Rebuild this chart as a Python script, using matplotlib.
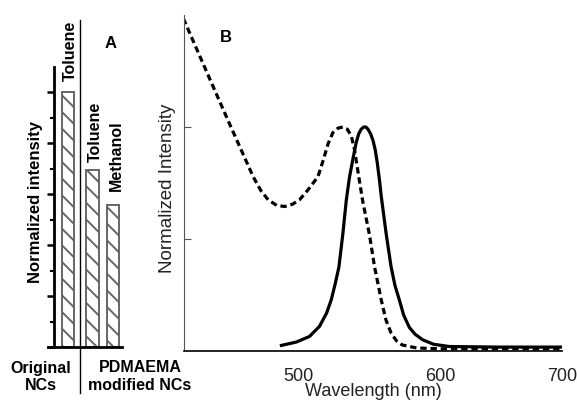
import matplotlib
matplotlib.use("Agg")
import matplotlib.pyplot as plt

plt.rcParams['font.family'] = ['Liberation Sans', 'DejaVu Sans']
plt.rcParams['hatch.linewidth'] = 1.4
plt.rcParams['hatch.color'] = '#666666'

# Panel A: bar intensities
bar_labels = ["Toluene", "Toluene", "Methanol"]
bar_values = [5.0, 3.48, 2.79]

# Panel B: absorption (dashed) and emission (solid) spectra
abs_wl = [419.5, 437.0, 452.2, 468.5, 474.0, 479.0, 485.0, 490.6, 496.0, 501.0,
          507.0, 513.9, 517.5, 521.0, 524.4, 528.0, 531.4, 534.5, 537.3, 539.5,
          542.6, 545.4, 550.0, 553.6, 558.3, 561.5, 565.2, 569.0, 573.0, 583.0,
          600.0, 685.0]
abs_val = [2.97, 2.46, 2.02, 1.556, 1.43, 1.35, 1.30, 1.29, 1.31, 1.35,
           1.44, 1.556, 1.70, 1.85, 1.95, 1.99, 2.00, 1.98, 1.92, 1.80,
           1.55, 1.33, 1.04, 0.75, 0.455, 0.28, 0.16, 0.09, 0.054, 0.027,
           0.02, 0.02]
em_wl = [488.3, 498.8, 508.0, 515.0, 520.0, 523.3, 526.0, 528.6, 531.4, 533.8,
         536.0, 538.5, 540.7, 542.5, 544.2, 546.0, 547.5, 549.0, 550.8, 552.5,
         554.0, 555.5, 557.0, 558.3, 561.7, 565.2, 568.0, 571.0, 574.0, 578.0,
         582.0, 587.3, 595.0, 606.0, 640.0, 685.0]
em_val = [0.05, 0.08, 0.13, 0.22, 0.34, 0.46, 0.60, 0.75, 1.05, 1.35,
          1.55, 1.72, 1.86, 1.94, 1.98, 2.00, 2.00, 1.98, 1.94, 1.88,
          1.80, 1.68, 1.53, 1.38, 1.05, 0.75, 0.58, 0.455, 0.32, 0.21,
          0.15, 0.10, 0.06, 0.04, 0.035, 0.035]
wl_ticks = [500, 600, 685]
wl_ticklabels = ["500", "600", "700"]

W, H = 577, 400
fig = plt.figure(figsize=(W / 100, H / 100), dpi=100)


def box(x0, y_top, x1, y_bot):
    return [x0 / W, 1 - y_bot / H, (x1 - x0) / W, (y_bot - y_top) / H]


# ---------- Panel A ----------
axA = fig.add_axes(box(48, 67, 122, 347))
pos = [0, 1.0, 1.85]
axA.bar(pos, bar_values, width=0.49, color='white', edgecolor='#666666',
        linewidth=1.4, hatch='\\\\')
axA.set_xlim(-0.816, 2.204)
axA.set_ylim(0, 5.5)
for s in ['top', 'right']:
    axA.spines[s].set_visible(False)
axA.spines['left'].set_position(('data', -0.58))
axA.spines['left'].set_linewidth(2)
axA.spines['bottom'].set_linewidth(2)
axA.set_xticks([])
axA.set_yticks([0, 1, 2, 3, 4, 5])
axA.set_yticks([0.5, 1.5, 2.5, 3.5, 4.5], minor=True)
axA.tick_params(axis='y', which='major', direction='out', length=5, width=1.8, labelleft=False)
axA.tick_params(axis='y', which='minor', direction='out', length=3, width=1.5)

fig.text(70 / W, 1 - 51 / H, bar_labels[0], rotation=90, ha='center', va='center',
         fontsize=11.5, fontweight='bold')
fig.text(95 / W, 1 - 132 / H, bar_labels[1], rotation=90, ha='center', va='center',
         fontsize=11.5, fontweight='bold')
fig.text(116 / W, 1 - 156 / H, bar_labels[2], rotation=90, ha='center', va='center',
         fontsize=11.5, fontweight='bold')
fig.text(111 / W, 1 - 43 / H, "A", ha='center', va='center', fontsize=12, fontweight='bold')
fig.text(36 / W, 1 - 202 / H, "Normalized intensity", rotation=90, ha='center', va='center',
         fontsize=12, fontweight='bold')
fig.text(41 / W, 1 - 377 / H, "Original\nNCs", ha='center', va='center',
         fontsize=11.5, fontweight='bold', linespacing=1.25)
fig.text(140 / W, 1 - 377 / H, "PDMAEMA\nmodified NCs", ha='center', va='center',
         fontsize=11.5, fontweight='bold', linespacing=1.25)
fig.add_artist(plt.Line2D([80 / W, 80 / W], [1 - 20 / H, 1 - 393 / H], color='black', lw=1))

# ---------- Panel B ----------
axB = fig.add_axes(box(184, 15, 562, 351))
axB.plot(abs_wl, abs_val, color='black', lw=2.3, linestyle=(0, (2, 1.2)))
axB.plot(em_wl, em_val, color='black', lw=2.3)
axB.set_xlim(420, 685)
axB.set_ylim(0, 3)
for s in ['top', 'right']:
    axB.spines[s].set_visible(False)
axB.spines['left'].set_color('#555555')
axB.spines['left'].set_linewidth(0.8)
axB.spines['bottom'].set_linewidth(1.2)
axB.set_yticks([1, 2])
axB.tick_params(axis='y', direction='in', length=5, width=0.8, color='#555555', labelleft=False)
axB.set_xticks(wl_ticks)
axB.set_xticklabels(wl_ticklabels)
axB.tick_params(axis='x', length=0, pad=12, labelsize=13, labelcolor='#222222')
fig.text(226 / W, 1 - 38 / H, "B", ha='center', va='center', fontsize=12, fontweight='bold')
fig.text(167 / W, 1 - 188 / H, "Normalized Intensity", rotation=90, ha='center', va='center',
         fontsize=13.5, color='#222222')
fig.text(373 / W, 1 - 391 / H, "Wavelength (nm)", ha='center', va='center',
         fontsize=13, color='#222222')

fig.savefig("out.png", dpi=100)
